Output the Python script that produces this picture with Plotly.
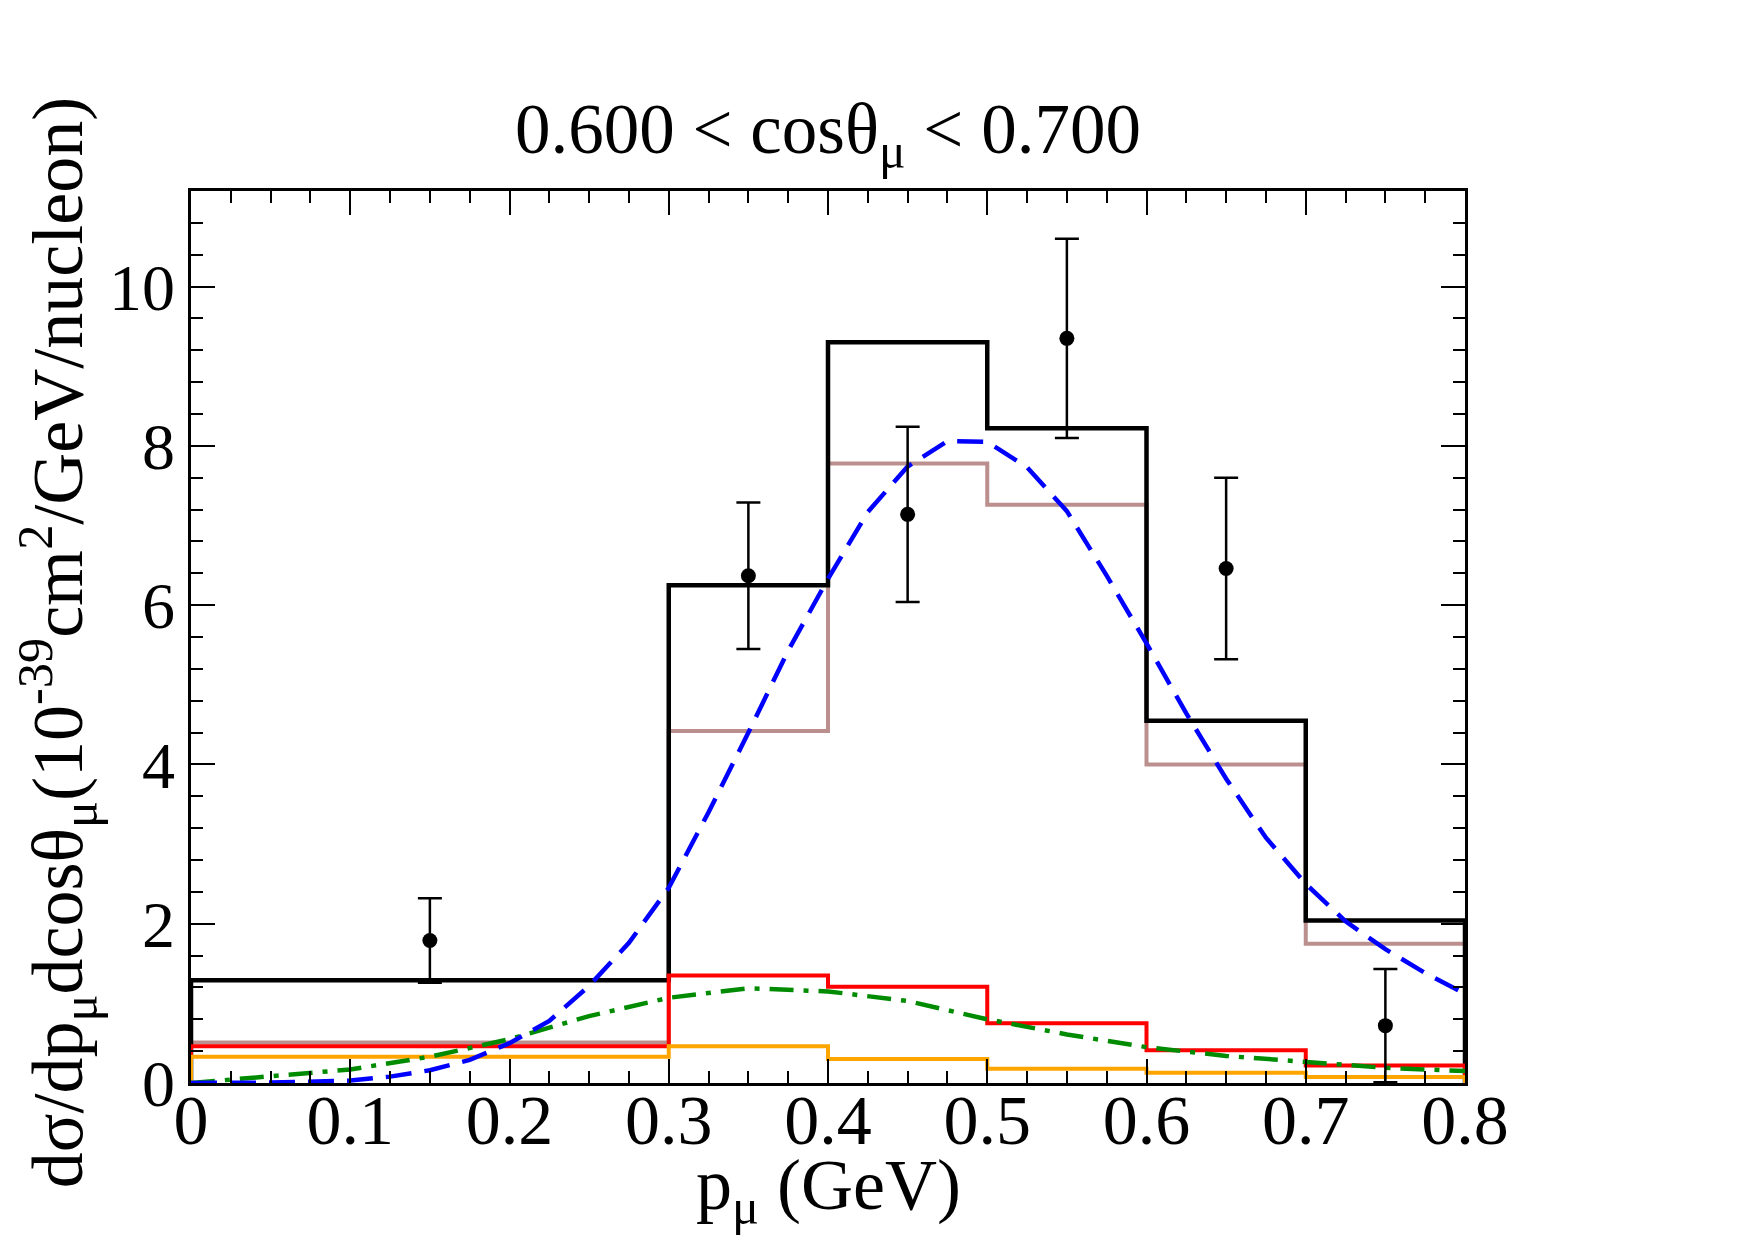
import plotly.graph_objects as go

# ---------------- data ----------------
bin_edges = [0.0, 0.3, 0.4, 0.5, 0.6, 0.7, 0.8]
total_vals = [1.29, 6.25, 9.30, 8.22, 4.55, 2.04]
brown_vals = [0.51, 4.42, 7.78, 7.26, 4.00, 1.75]
red_vals = [0.46, 1.35, 1.21, 0.75, 0.41, 0.22]
orange_vals = [0.33, 0.46, 0.30, 0.18, 0.13, 0.075]

blue_x = [0.0, 0.05, 0.1, 0.125, 0.15, 0.175, 0.2, 0.225, 0.25, 0.275, 0.3,
          0.325, 0.35, 0.375, 0.4, 0.425, 0.45, 0.475, 0.5, 0.525, 0.55,
          0.575, 0.6, 0.625, 0.65, 0.675, 0.7, 0.725, 0.75, 0.775, 0.8]
blue_y = [0.0, 0.005, 0.03, 0.08, 0.16, 0.29, 0.50, 0.78, 1.22, 1.76, 2.45,
          3.40, 4.40, 5.43, 6.33, 7.17, 7.74, 8.06, 8.05, 7.73, 7.18,
          6.37, 5.52, 4.64, 3.82, 3.08, 2.50, 2.03, 1.68, 1.38, 1.12]

green_x = [0.0, 0.05, 0.1, 0.15, 0.2, 0.25, 0.3, 0.35, 0.4, 0.45, 0.5,
           0.55, 0.6, 0.65, 0.7, 0.75, 0.8]
green_y = [0.0, 0.08, 0.17, 0.33, 0.55, 0.84, 1.07, 1.19, 1.15, 1.03, 0.80,
           0.61, 0.45, 0.34, 0.26, 0.19, 0.15]

data_x = [0.15, 0.35, 0.45, 0.55, 0.65, 0.75]
data_y = [1.79, 6.37, 7.14, 9.35, 6.46, 0.72]
data_err = [0.53, 0.92, 1.10, 1.25, 1.14, 0.71]

x_tick_vals = [0, 0.1, 0.2, 0.3, 0.4, 0.5, 0.6, 0.7, 0.8]
x_tick_text = ["0", "0.1", "0.2", "0.3", "0.4", "0.5", "0.6", "0.7", "0.8"]
y_tick_vals = [0, 2, 4, 6, 8, 10]
y_tick_text = ["0", "2", "4", "6", "8", "10"]

title_text = "0.600 &lt; cosθ<sub>μ</sub> &lt; 0.700"
x_title = "p<sub>μ</sub> (GeV)"
y_title = "dσ/dp<sub>μ</sub>dcosθ<sub>μ</sub>(10<sup>-39</sup>cm<sup>2</sup>/GeV/nucleon)"

FONT = "Liberation Serif, Times New Roman, serif"


def step_xy(edges, vals):
    xs = [edges[0]] + list(edges) + [edges[-1]]
    ys = [0.0] + list(vals) + [vals[-1], 0.0]
    return xs, ys


fig = go.Figure()

for vals, color, w in [(brown_vals, "#bc8f8f", 4), (total_vals, "#000000", 4.5),
                       (red_vals, "#ff0000", 4), (orange_vals, "#ffa500", 4)]:
    xs, ys = step_xy(bin_edges, vals)
    fig.add_trace(go.Scatter(x=xs, y=ys, mode="lines",
                             line=dict(color=color, width=w, shape="hv"),
                             showlegend=False, hoverinfo="skip"))

fig.add_trace(go.Scatter(x=green_x, y=green_y, mode="lines",
                         line=dict(color="#008b00", width=4.5,
                                   dash="24px,10px,5px,10px"),
                         showlegend=False))
fig.add_trace(go.Scatter(x=blue_x, y=blue_y, mode="lines",
                         line=dict(color="#0000ff", width=4.5, dash="26px,13px"),
                         showlegend=False))
fig.add_trace(go.Scatter(x=data_x, y=data_y, mode="markers",
                         marker=dict(color="#000000", size=15),
                         error_y=dict(type="data", array=data_err,
                                      color="#000000", thickness=2.5, width=12),
                         showlegend=False))

axis_common = dict(showline=True, linecolor="#000000", linewidth=2.5,
                   mirror="allticks", ticks="inside", tickcolor="#000000",
                   tickwidth=2, ticklen=24, showgrid=False, zeroline=False)

fig.update_xaxes(range=[0, 0.8], tickmode="array", tickvals=x_tick_vals,
                 ticktext=x_tick_text, ticklabelstandoff=-26,
                 tickfont=dict(family=FONT, size=70, color="#000000"),
                 minor=dict(dtick=0.025, tick0=0, ticks="inside", ticklen=12,
                            tickwidth=2, tickcolor="#000000", showgrid=False),
                 **axis_common)
fig.update_yaxes(range=[0, 11.2], tickmode="array", tickvals=y_tick_vals,
                 ticktext=y_tick_text,
                 tickfont=dict(family=FONT, size=66, color="#000000"),
                 minor=dict(dtick=0.4, tick0=0, ticks="inside", ticklen=12,
                            tickwidth=2, tickcolor="#000000", showgrid=False),
                 **axis_common)

fig.add_annotation(text=title_text, xref="paper", yref="paper", x=0.5, y=1.0,
                   yshift=10, xanchor="center", yanchor="bottom", showarrow=False,
                   font=dict(family=FONT, size=71, color="#000000"))
fig.add_annotation(text=x_title, xref="paper", yref="paper", x=0.5, y=0,
                   yshift=-60, xanchor="center", yanchor="top", showarrow=False,
                   font=dict(family=FONT, size=72, color="#000000"))
fig.add_annotation(text=y_title, xref="paper", yref="paper", x=0, y=0.494,
                   xshift=-134, xanchor="center", yanchor="middle",
                   textangle=-90, showarrow=False,
                   font=dict(family=FONT, size=72, color="#000000"))

fig.update_layout(width=1755, height=1240,
                  margin=dict(l=191, r=290, t=191, b=157, autoexpand=False),
                  paper_bgcolor="#ffffff", plot_bgcolor="#ffffff",
                  font=dict(family=FONT, color="#000000"))

fig.write_html("out.html")
